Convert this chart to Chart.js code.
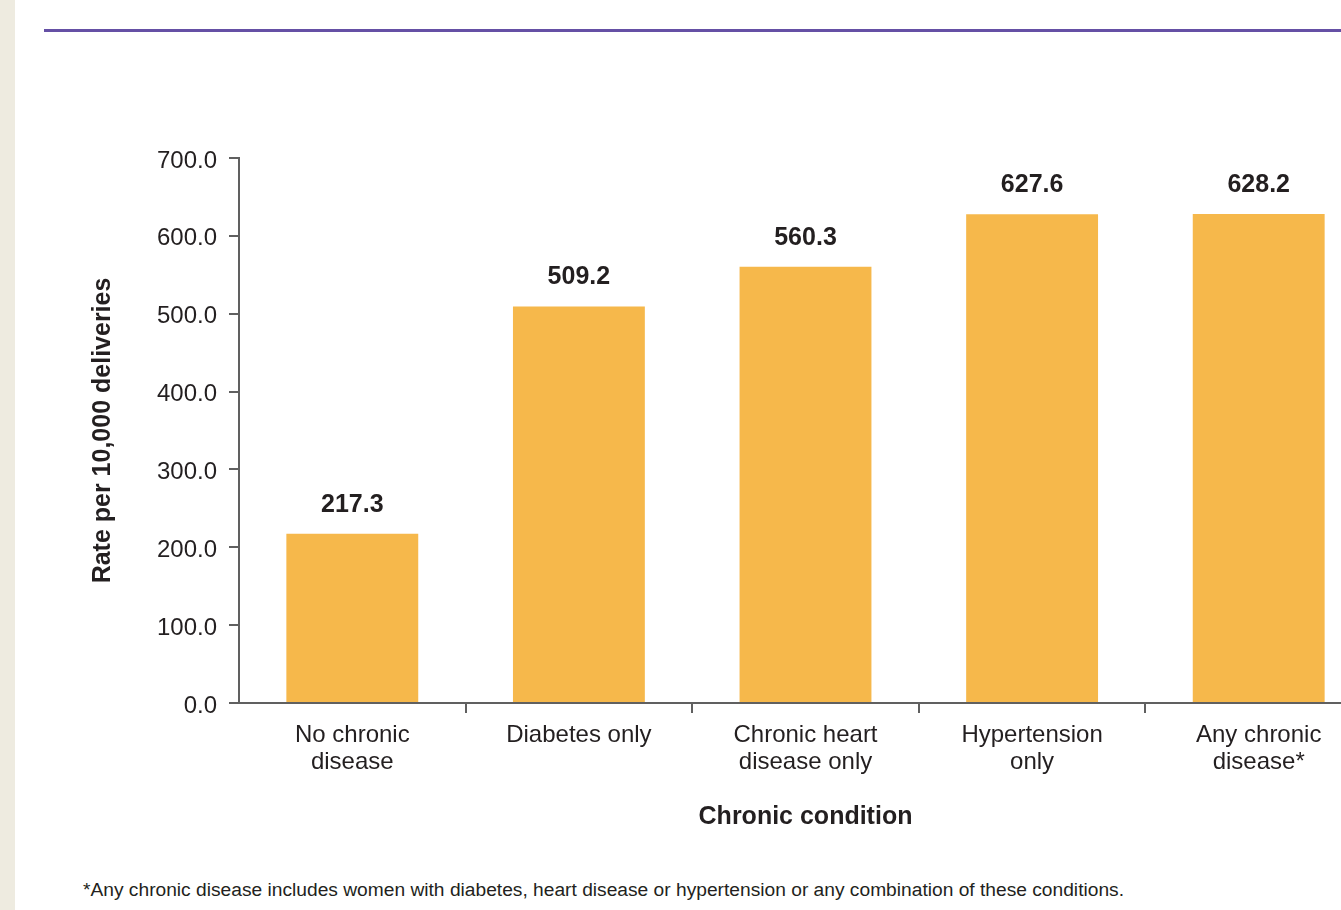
<!DOCTYPE html>
<html>
<head>
<meta charset="utf-8">
<script src="https://cdn.jsdelivr.net/npm/chart.js@4.4.1/dist/chart.umd.min.js"></script>
<style>
  html, body { margin: 0; padding: 0; width: 1341px; height: 910px; overflow: hidden; background: #fff; font-family: "Liberation Sans", Arial, Helvetica, sans-serif; }
  .side { position: absolute; left: 0; top: 0; width: 15px; height: 910px; background: #EEEBE0; z-index: 2; }
  .rule { position: absolute; left: 44px; top: 29px; width: 1297px; height: 3px; background: #6550A5; }
  .wrap { position: absolute; left: 0; top: 0; width: 1380px; height: 850px; }
  .note { position: absolute; left: 83px; top: 879px; font-size: 19.2px; color: #231F20; white-space: nowrap; }
</style>
</head>
<body>
<div class="side"></div>
<div class="rule"></div>
<div class="wrap"><canvas id="chart" width="1380" height="850"></canvas></div>
<div class="note">*Any chronic disease includes women with diabetes, heart disease or hypertension or any combination of these conditions.</div>
<script>
// Rate of the outcome per 10,000 deliveries, by chronic condition
const categories = [
  ["No chronic", "disease"],
  ["Diabetes only"],
  ["Chronic heart", "disease only"],
  ["Hypertension", "only"],
  ["Any chronic", "disease*"]
];
const rates = [217.3, 509.2, 560.3, 627.6, 628.2];
const yTicks = [0, 100, 200, 300, 400, 500, 600, 700];

const TEXT = "#231F20";
const AXIS = "#606060";
const BAR = "#F6B84B";
const FONT = "'Liberation Sans', Arial, Helvetica, sans-serif";

// Bold value written above each bar
const valueLabels = {
  id: "valueLabels",
  afterDatasetsDraw(chart) {
    const ctx = chart.ctx;
    const meta = chart.getDatasetMeta(0);
    ctx.save();
    ctx.font = "bold 25px " + FONT;
    ctx.fillStyle = TEXT;
    ctx.textAlign = "center";
    ctx.textBaseline = "middle";
    meta.data.forEach((bar, i) => {
      ctx.fillText(rates[i].toFixed(1), bar.x, bar.y - 29);
    });
    ctx.restore();
  }
};

new Chart(document.getElementById("chart"), {
  type: "bar",
  data: {
    labels: categories,
    datasets: [{
      data: rates,
      backgroundColor: BAR,
      borderWidth: 0,
      categoryPercentage: 1,
      barPercentage: 0.582
    }]
  },
  options: {
    responsive: false,
    animation: false,
    layout: { padding: { left: 0, right: 8, top: 158, bottom: 0 } },
    plugins: { legend: { display: false }, tooltip: { enabled: false } },
    scales: {
      x: {
        offset: true,
        afterFit(scale) { scale.height = 147; },
        border: { display: true, color: AXIS, width: 2 },
        grid: {
          offset: true,
          drawOnChartArea: false,
          drawTicks: true,
          tickLength: 10,
          lineWidth: 2,
          color: (c) => (c.index === 0 ? "rgba(0,0,0,0)" : AXIS)
        },
        ticks: {
          color: TEXT,
          padding: 9,
          maxRotation: 0,
          autoSkip: false,
          font: { family: FONT, size: 24, lineHeight: 1.125 }
        },
        title: {
          display: true,
          text: "Chronic condition",
          color: TEXT,
          font: { family: FONT, size: 25, weight: "bold", lineHeight: 1.2 },
          padding: { top: 0, bottom: 18 }
        }
      },
      y: {
        min: 0,
        max: 700,
        afterFit(scale) { scale.width = 239; },
        afterBuildTicks(scale) { scale.ticks = yTicks.map(v => ({ value: v })); },
        border: { display: true, color: AXIS, width: 2 },
        grid: {
          drawOnChartArea: false,
          drawTicks: true,
          tickLength: 10,
          lineWidth: 2,
          color: AXIS
        },
        ticks: {
          color: TEXT,
          padding: 12,
          labelOffset: 3,
          font: { family: FONT, size: 24 },
          callback: (v) => Number(v).toFixed(1)
        },
        title: {
          display: true,
          text: "Rate per 10,000 deliveries",
          color: TEXT,
          font: { family: FONT, size: 25, weight: "bold", lineHeight: 1.2 },
          padding: { top: 88, bottom: 0 }
        }
      }
    }
  },
  plugins: [valueLabels]
});
</script>
</body>
</html>
